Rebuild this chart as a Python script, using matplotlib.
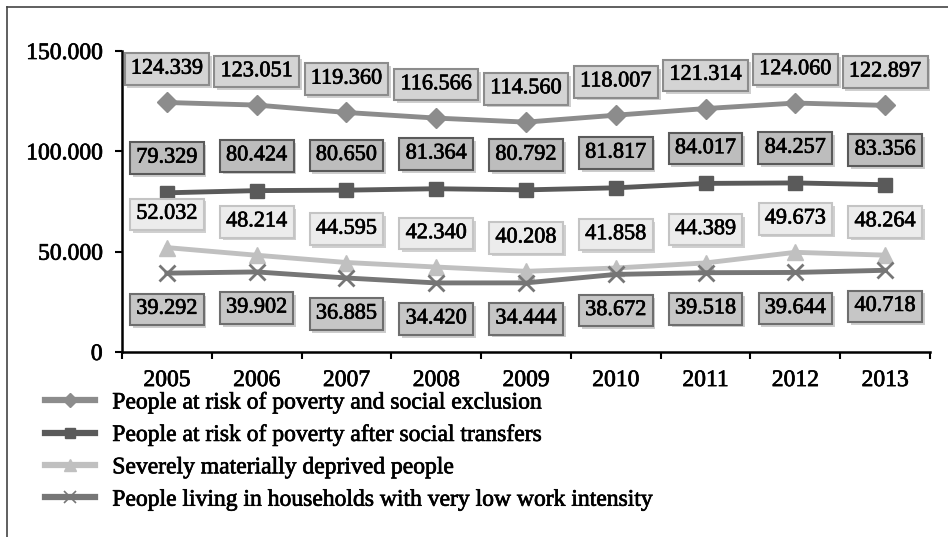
import matplotlib
matplotlib.use("Agg")
from matplotlib import pyplot as plt
from matplotlib import patheffects as pe
from matplotlib.lines import Line2D
from matplotlib.ticker import FuncFormatter, MultipleLocator
import numpy as np

years = ["2005", "2006", "2007", "2008", "2009", "2010", "2011", "2012", "2013"]

risk_poverty_exclusion = [124339, 123051, 119360, 116566, 114560, 118007, 121314, 124060, 122897]
risk_after_transfers = [79329, 80424, 80650, 81364, 80792, 81817, 84017, 84257, 83356]
materially_deprived = [52032, 48214, 44595, 42340, 40208, 41858, 44389, 49673, 48264]
low_work_intensity = [39292, 39902, 36885, 34420, 34444, 38672, 39518, 39644, 40718]

series_names = [
    "People at risk of poverty and social exclusion",
    "People at risk of poverty after social transfers",
    "Severely materially deprived people",
    "People living in households with very low work intensity",
]

plt.rcParams["font.family"] = "Liberation Serif"

# slightly heavier strokes for all text
heavy = [pe.withStroke(linewidth=0.5, foreground="black")]


def dotted(v):
    return f"{int(v):,}".replace(",", ".")


# line colour, marker, marker size, label offset (pt), box face, box edge
styles = [
    ("#8c8c8c", "D", 10, 24, "#d4d4d4", "#8c8c8c"),
    ("#5a5a5a", "s", 10, 25, "#bdbdbd", "#5a5a5a"),
    ("#c0c0c0", "^", 11, 24, "#ececec", "#c4c4c4"),
    ("#767676", "x", 12, -26, "#c6c6c6", "#6e6e6e"),
]
all_series = [risk_poverty_exclusion, risk_after_transfers, materially_deprived, low_work_intensity]

fig = plt.figure(figsize=(9.48, 5.37), dpi=100)
ax = fig.add_axes([122 / 948, 1 - 352 / 537, (930 - 122) / 948, (352 - 51) / 537])

x = np.arange(len(years))
handles = []
for vals, name, (col, mk, ms, off, face, edge) in zip(all_series, series_names, styles):
    ax.plot(x, vals, color=col, lw=3.5, marker=mk, ms=ms,
            mew=2 if mk == "x" else 1, mec=col, mfc=col, zorder=3)
    handles.append(Line2D([], [], color=col, lw=4.5, marker=mk,
                          ms=ms - 3, mew=1.2 if mk == "x" else 1, mec=col, mfc=col))
    for xi, v in zip(x, vals):
        t = ax.annotate(dotted(v), (xi, v), xytext=(0, off), textcoords="offset points",
                        ha="center", va="center", fontsize=16, zorder=5,
                        bbox=dict(boxstyle="square,pad=0.28", fc=face, ec=edge, lw=1.5))
        t.set_path_effects(heavy)
        t.get_bbox_patch().set_path_effects(
            [pe.SimplePatchShadow(offset=(2, -2), alpha=0.25), pe.Normal()])

ax.set_xlim(-0.5, len(years) - 0.5)
ax.set_ylim(0, 150000)
ax.set_xticks(x)
ax.set_xticklabels(years)
ax.xaxis.set_minor_locator(MultipleLocator(1, offset=0.5))
ax.yaxis.set_major_locator(MultipleLocator(50000))
ax.yaxis.set_major_formatter(FuncFormatter(lambda v, p: dotted(v)))

ax.tick_params(axis="x", which="major", length=0, pad=13, labelsize=17)
ax.tick_params(axis="x", which="minor", length=5, width=1.5, direction="out")
ax.tick_params(axis="y", length=5, width=1.5, pad=9, labelsize=17)
for s in ["top", "right"]:
    ax.spines[s].set_visible(False)
for s in ["left", "bottom"]:
    ax.spines[s].set_linewidth(1.8)
for lbl in ax.get_xticklabels() + ax.get_yticklabels():
    lbl.set_path_effects(heavy)

leg = fig.legend(handles, series_names, loc="upper left", bbox_to_anchor=(45 / 948, 1 - 392 / 537),
                 frameon=False, fontsize=17, handlelength=2.1, handletextpad=0.75,
                 labelspacing=0.46, borderpad=0, borderaxespad=0)
for txt in leg.get_texts():
    txt.set_path_effects(heavy)

# outer frame
fig.add_artist(Line2D([7 / 948, 7 / 948], [0, 1 - 7 / 537], color="#444444", lw=1.2))
fig.add_artist(Line2D([7 / 948, 1], [1 - 7 / 537, 1 - 7 / 537], color="#444444", lw=1.2))

fig.savefig("out.png", dpi=100)
